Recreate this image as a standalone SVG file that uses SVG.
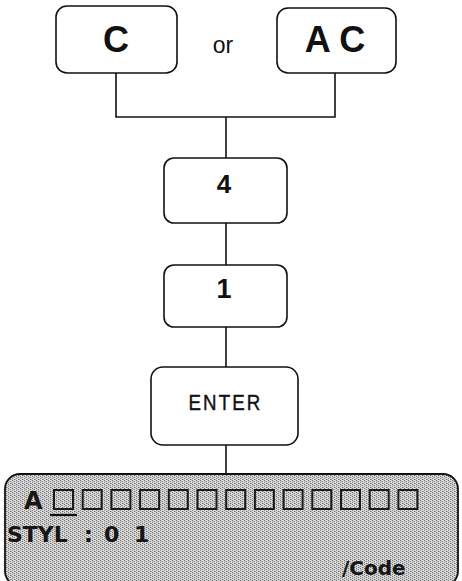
<svg xmlns="http://www.w3.org/2000/svg" width="462" height="581" viewBox="0 0 462 581">
<style>
.key{fill:#fff;stroke:#111;stroke-width:1.6}
.kl{font-family:"Liberation Sans",Arial,sans-serif;font-weight:bold;fill:#111;text-anchor:middle}
.conn{fill:none;stroke:#111;stroke-width:1.6}
.lcd{font-family:"DejaVu Sans","Noto Sans",sans-serif;font-weight:bold;fill:#161616}
.sq{fill:none;stroke:#1a1a1a;stroke-width:2}
</style>
<defs>
<pattern id="dither" width="4" height="4" patternUnits="userSpaceOnUse">
<rect width="4" height="4" fill="#d8d8d8"/>
<rect x="0" y="0" width="1" height="1" fill="#707070"/>
<rect x="0" y="2" width="1" height="1" fill="#8a8a8a"/>
<rect x="2" y="1" width="1" height="1" fill="#8a8a8a"/>
<rect x="2" y="3" width="1" height="1" fill="#707070"/>
<rect x="1" y="1" width="1" height="1" fill="#b0b0b0"/>
<rect x="3" y="3" width="1" height="1" fill="#b0b0b0"/>
</pattern>
</defs>
<g id="connectors">
<path class="conn" d="M116 73 V117 H335 V73"/>
<path class="conn" d="M226 117 V158"/>
<path class="conn" d="M226 223 V265"/>
<path class="conn" d="M226 327 V367"/>
<path class="conn" d="M226 445 V474"/>
</g>
<g id="key-c">
<rect class="key" x="56" y="6" width="121" height="67" rx="11"/>
<text class="kl" x="116" y="52" font-size="36">C</text>
</g>
<g id="label-or">
<text x="223" y="53" font-family="'Liberation Sans',Arial,sans-serif" font-size="23" text-anchor="middle" fill="#111">or</text>
</g>
<g id="key-ac">
<rect class="key" x="277" y="8" width="119" height="65" rx="11"/>
<text class="kl" x="335" y="52" font-size="36">A C</text>
</g>
<g id="key-4">
<rect class="key" x="164" y="158" width="123" height="65" rx="10"/>
<text class="kl" x="224" y="193" font-size="26">4</text>
</g>
<g id="key-1">
<rect class="key" x="164" y="265" width="123" height="62" rx="10"/>
<text class="kl" x="224" y="298" font-size="27">1</text>
</g>
<g id="key-enter">
<rect class="key" x="151" y="367" width="147" height="78" rx="12"/>
<text transform="translate(225.5 410) scale(0.85 1)" x="0" y="0" font-family="'Liberation Sans',Arial,sans-serif" font-size="22" letter-spacing="2.5" text-anchor="middle" fill="#111" stroke="#111" stroke-width="0.4">ENTER</text>
</g>
<g id="display">
<rect x="5" y="474" width="453" height="112" rx="15" fill="url(#dither)" stroke="#111" stroke-width="1.8"/>
<text class="lcd" x="24" y="509" font-size="24">A</text>
<g>
<rect class="sq" x="54" y="490" width="19" height="19"/>
<rect class="sq" x="82.7" y="490" width="19" height="19"/>
<rect class="sq" x="111.4" y="490" width="19" height="19"/>
<rect class="sq" x="140.1" y="490" width="19" height="19"/>
<rect class="sq" x="168.8" y="490" width="19" height="19"/>
<rect class="sq" x="197.5" y="490" width="19" height="19"/>
<rect class="sq" x="226.2" y="490" width="19" height="19"/>
<rect class="sq" x="254.9" y="490" width="19" height="19"/>
<rect class="sq" x="283.6" y="490" width="19" height="19"/>
<rect class="sq" x="312.3" y="490" width="19" height="19"/>
<rect class="sq" x="341" y="490" width="19" height="19"/>
<rect class="sq" x="369.7" y="490" width="19" height="19"/>
<rect class="sq" x="398.4" y="490" width="19" height="19"/>
</g>
<path d="M50 515 H77" stroke="#111" stroke-width="2.2"/>
<text class="lcd" y="542" font-size="22"><tspan x="7">STYL</tspan> <tspan x="84">:</tspan> <tspan x="104">0</tspan> <tspan x="134">1</tspan></text>
<text class="lcd" x="342" y="575" font-size="20">/Code</text>
</g>
</svg>
